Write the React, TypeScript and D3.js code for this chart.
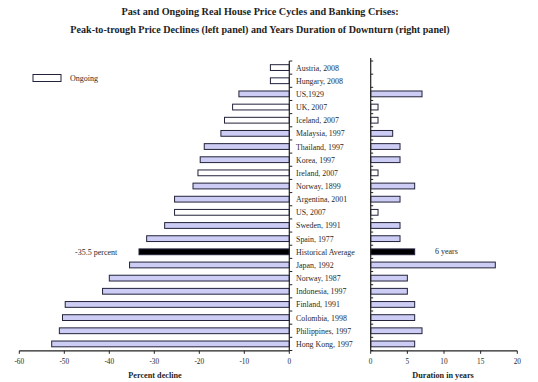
import React from "react";
import * as d3 from "d3";

const categories = [
  "Austria, 2008", "Hungary, 2008", "US,1929", "UK, 2007", "Iceland, 2007",
  "Malaysia, 1997", "Thailand, 1997", "Korea, 1997", "Ireland, 2007", "Norway, 1899",
  "Argentina, 2001", "US, 2007", "Sweden, 1991", "Spain, 1977", "Historical Average",
  "Japan, 1992", "Norway, 1987", "Indonesia, 1997", "Finland, 1991", "Colombia, 1998",
  "Philippines, 1997", "Hong Kong, 1997",
];
const declines = [
  -4.2, -4.2, -11.2, -12.6, -14.4, -15.2, -18.9, -19.8, -20.3, -21.4,
  -25.5, -25.5, -27.7, -31.7, -33.4, -35.5, -40.0, -41.5, -49.8, -50.4, -51.1, -52.8,
];
const durations = [
  0, 0, 7, 1, 1, 3, 4, 4, 1, 6, 4, 1, 4, 4, 6, 17, 5, 5, 6, 6, 7, 6,
];
const ongoing = [
  true, true, false, true, true, false, false, false, true, false,
  false, true, false, false, false, false, false, false, false, false, false, false,
];
const averageLabel = "Historical Average";
const averageDeclineText = "-35.5 percent";
const averageDurationText = "6 years";
const leftTicks = [-60, -50, -40, -30, -20, -10, 0];
const rightTicks = [0, 5, 10, 15, 20];

const W = 538, H = 382;
const FONT = "'Liberation Serif', 'Times New Roman', serif";
const LAV = "#ccccf4";
const STROKE = "#22223a";
const TXT = "#2a2a2a";

export default function App() {
  const y = d3.scaleBand<string>().domain(categories).range([61, 350.5]).paddingInner(0.56).paddingOuter(0.28);
  const xL = d3.scaleLinear().domain([-60, 0]).range([19.3, 289.3]);
  const xR = d3.scaleLinear().domain([0, 20]).range([370.7, 517.3]);
  const axisY = 350.8;
  const bh = y.bandwidth();
  const step = y.step();
  const bounds = d3.range(categories.length + 1).map((i) => 61 + i * step);

  const fillFor = (i: number) =>
    categories[i] === averageLabel ? "#000" : ongoing[i] ? "#fff" : LAV;

  const avgY = (y(averageLabel) as number) + bh / 2;

  return (
    <svg width={W} height={H} style={{ position: "absolute", left: 0, top: 0, background: "#fff" }} fontFamily={FONT}>
      <text x={260} y={15} textAnchor="middle" fontSize={10.2} fontWeight="bold" fill="#1e1e1e">
        Past and Ongoing Real House Price Cycles and Banking Crises:
      </text>
      <text x={260} y={33} textAnchor="middle" fontSize={10.1} fontWeight="bold" fill="#1e1e1e">
        Peak-to-trough Price Declines (left panel) and Years Duration of Downturn (right panel)
      </text>

      {/* legend */}
      <rect x={33} y={74.5} width={28} height={7} fill="#fff" stroke={STROKE} strokeWidth={1} />
      <text x={70} y={81} fontSize={8} fill={TXT}>Ongoing</text>

      {/* left bars */}
      {categories.map((c, i) => {
        const x0 = xL(declines[i]);
        return (
          <rect key={"l" + c} x={x0} y={y(c)} width={xL(0) - x0} height={bh}
            fill={fillFor(i)} stroke={STROKE} strokeWidth={1} />
        );
      })}
      {/* right bars */}
      {categories.map((c, i) =>
        durations[i] > 0 ? (
          <rect key={"r" + c} x={xR(0)} y={y(c)} width={xR(durations[i]) - xR(0)} height={bh}
            fill={fillFor(i)} stroke={STROKE} strokeWidth={1} />
        ) : null
      )}

      {/* left vertical axis */}
      <line x1={xL(0)} x2={xL(0)} y1={bounds[0]} y2={axisY} stroke="#222" strokeWidth={1.2} />
      {bounds.map((b, i) => (
        <line key={"tl" + i} x1={xL(0)} x2={xL(0) + 3} y1={b} y2={b} stroke="#222" strokeWidth={1} />
      ))}
      {/* right vertical axis */}
      <line x1={xR(0)} x2={xR(0)} y1={bounds[0] - 3} y2={axisY} stroke="#222" strokeWidth={1.2} />
      {bounds.map((b, i) => (
        <line key={"tr" + i} x1={xR(0)} x2={xR(0) + 2.5} y1={b} y2={b} stroke="#222" strokeWidth={1} />
      ))}

      {/* category labels */}
      {categories.map((c) => (
        <text key={"t" + c} x={296} y={(y(c) as number) + bh / 2 + 3} fontSize={7.9} fill={TXT}>
          {c}
        </text>
      ))}

      {/* annotations */}
      <text x={75} y={avgY + 3} fontSize={8} fill={TXT}>{averageDeclineText}</text>
      <text x={435} y={avgY + 2} fontSize={8} fill={TXT}>{averageDurationText}</text>

      {/* bottom axes */}
      <line x1={xL(-60)} x2={xL(0)} y1={axisY} y2={axisY} stroke="#222" strokeWidth={1.2} />
      {leftTicks.map((t) => (
        <g key={"lx" + t}>
          <line x1={xL(t)} x2={xL(t)} y1={axisY} y2={axisY + 3} stroke="#222" strokeWidth={1} />
          <text x={xL(t)} y={axisY + 13} textAnchor="middle" fontSize={7.3} fill={TXT}>{t}</text>
        </g>
      ))}
      <line x1={xR(0)} x2={xR(20)} y1={axisY} y2={axisY} stroke="#222" strokeWidth={1.2} />
      {rightTicks.map((t) => (
        <g key={"rx" + t}>
          <line x1={xR(t)} x2={xR(t)} y1={axisY} y2={axisY + 3} stroke="#222" strokeWidth={1} />
          <text x={xR(t)} y={axisY + 13} textAnchor="middle" fontSize={7.3} fill={TXT}>{t}</text>
        </g>
      ))}
      <text x={155} y={378} textAnchor="middle" fontSize={8.2} fontWeight="bold" fill="#1e1e1e">Percent decline</text>
      <text x={443} y={378} textAnchor="middle" fontSize={8.2} fontWeight="bold" fill="#1e1e1e">Duration in years</text>
    </svg>
  );
}
